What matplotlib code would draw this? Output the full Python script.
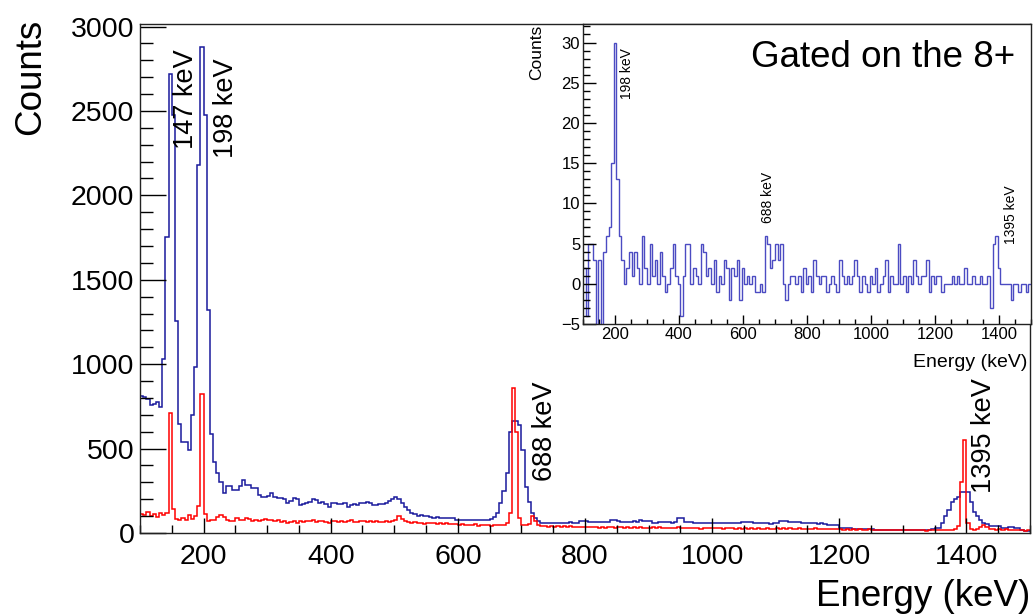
import matplotlib
matplotlib.use('Agg')
import matplotlib.pyplot as plt
import matplotlib.ticker as ticker
import numpy as np

plt.rcParams['font.family'] = ['Liberation Sans', 'DejaVu Sans']

# main spectrum, 5 keV bins from 100 to 1500 keV
bin_width = 5
blue_counts = [
    812, 805, 795, 760, 765, 778, 748, 1032, 1755, 2720, 2474, 1253, 646, 541, 541, 492, 700, 986, 2178, 2880,
    2474, 1322, 585, 423, 356, 304, 235, 279, 279, 255, 255, 279, 314, 283, 283, 267, 267, 225, 213, 213,
    220, 235, 215, 210, 206, 200, 178, 190, 206, 200, 166, 170, 178, 185, 199, 195, 180, 185, 170, 156,
    180, 178, 172, 170, 175, 157, 166, 170, 166, 175, 180, 182, 178, 166, 168, 172, 170, 175, 191, 200,
    212, 200, 180, 152, 135, 117, 110, 101, 105, 98, 101, 95, 91, 92, 89, 90, 86, 89, 88, 80,
    77, 78, 76, 79, 77, 75, 78, 76, 77, 80, 82, 95, 120, 180, 250, 356, 600, 666, 662, 640,
    492, 275, 186, 118, 89, 70, 62, 58, 60, 62, 57, 62, 60, 58, 61, 63, 58, 60, 73, 72,
    70, 66, 67, 64, 68, 66, 63, 67, 77, 76, 74, 66, 68, 64, 67, 69, 66, 77, 74, 71,
    71, 57, 58, 65, 63, 66, 64, 62, 66, 87, 86, 65, 63, 66, 59, 60, 58, 61, 59, 60,
    62, 60, 58, 62, 59, 61, 60, 58, 62, 65, 66, 64, 65, 59, 60, 58, 59, 57, 56, 58,
    57, 72, 73, 70, 65, 64, 66, 63, 59, 60, 58, 59, 57, 56, 57, 55, 47, 48, 46, 47,
    30, 28, 27, 29, 25, 24, 23, 25, 24, 22, 23, 19, 18, 20, 17, 18, 19, 17, 18, 18,
    17, 19, 18, 17, 19, 18, 16, 18, 20, 22, 28, 30, 57, 100, 136, 186, 200, 215, 241, 245,
    240, 186, 126, 100, 77, 60, 53, 41, 42, 40, 41, 28, 30, 36, 35, 28, 27, 15, 14, 13,
]
red_counts = [
    115, 108, 122, 100, 112, 95, 118, 105, 120, 710, 140, 82, 76, 88, 79, 104, 85, 98, 160, 825,
    110, 70, 80, 76, 92, 105, 95, 80, 74, 70, 86, 78, 75, 88, 82, 73, 80, 70, 78, 85,
    76, 80, 72, 78, 68, 72, 60, 65, 70, 62, 74, 68, 70, 72, 76, 64, 70, 72, 66, 60,
    70, 74, 68, 72, 66, 70, 75, 68, 64, 72, 70, 66, 72, 65, 70, 68, 66, 72, 64, 70,
    78, 100, 82, 70, 64, 60, 66, 58, 62, 56, 60, 58, 62, 55, 60, 54, 58, 52, 56, 54,
    48, 52, 47, 50, 46, 52, 44, 50, 45, 48, 44, 50, 46, 50, 48, 60, 120, 858, 600, 90,
    50, 46, 55, 103, 70, 48, 40, 44, 38, 42, 36, 40, 38, 42, 35, 40, 37, 34, 38, 36,
    34, 38, 33, 36, 30, 35, 32, 37, 34, 30, 36, 33, 29, 34, 31, 35, 30, 33, 28, 32,
    30, 34, 29, 33, 31, 28, 32, 30, 27, 33, 29, 31, 27, 32, 28, 30, 26, 31, 28, 30,
    27, 31, 28, 25, 30, 27, 29, 26, 30, 25, 28, 26, 29, 24, 28, 26, 25, 29, 26, 24,
    28, 25, 27, 24, 28, 26, 23, 27, 25, 22, 26, 24, 27, 23, 25, 22, 26, 24, 21, 25,
    22, 20, 24, 19, 22, 18, 21, 19, 17, 21, 18, 20, 16, 19, 17, 20, 16, 18, 17, 15,
    18, 16, 19, 15, 17, 16, 18, 14, 17, 15, 18, 16, 19, 17, 20, 18, 24, 40, 300, 551,
    60, 25, 20, 22, 36, 47, 38, 26, 22, 18, 21, 17, 23, 19, 16, 20, 15, 17, 14, 16,
]

# gated spectrum (inset), 8 keV bins
gate_width = 8
gated_counts = [
    2, -4, 5, 5, 3, -6, 3, -6, 4, 6, 7, 15, 30, 13, 6, 3, 0, 2, 4, 1,
    4, 2, 0, 6, 2, 0, 5, 1, 3, 0, 4, 1, -1, 0, 2, 5, 1, 0, -4, 1,
    5, 5, 0, 2, 1, 0, 5, 4, 1, 2, 0, 3, -1, 1, 0, 3, 2, -2, 2, 1,
    3, -2, 2, 0, 1, 0, 1, -1, -1, 0, -1, 6, 5, 2, 3, 5, 3, 5, 0, -2,
    0, 1, 1, 0, 1, -1, 2, 0, 1, -1, 3, 1, 0, 1, 1, -1, 0, 1, 0, -1,
    3, 1, 0, 1, 0, 1, 3, 1, -1, 1, 0, -1, 1, 0, 2, -1, 0, 1, 3, -1,
    1, 0, 0, 5, 0, 1, -1, 1, 0, 3, 1, 0, 1, 1, 3, -1, 1, 0, 1, 1,
    -1, 0, 0, 0, 1, 0, 1, 0, 0, 2, 0, 0, 1, 0, 0, 1, 0, 0, 1, -3,
    5, 6, 2, 0, 0, 0, 0, -2, 0, 0, -1, 0, 0, -1, 0,
]

main_peaks = ['147 keV', '198 keV', '688 keV', '1395 keV']
main_peak_pos = [(173, 2570), (235, 2515), (737, 600), (1427, 580)]
gated_peaks = ['198 keV', '688 keV', '1395 keV']
gated_peak_pos = [(239, 26.2), (678, 10.7), (1437, 8.6)]

edges = np.arange(100, 1500 + bin_width, bin_width)
gate_edges = np.arange(100, 1500 + gate_width, gate_width)

fig = plt.figure(figsize=(10.34, 6.14), dpi=100)
ax = fig.add_axes([0.1354, 0.1319, 0.8607, 0.8290])

ax.stairs(blue_counts, edges, baseline=None, color='#1a1a9c', lw=1.1)
ax.stairs(red_counts, edges, baseline=None, color='#ff0000', lw=1.1)
ax.set_xlim(100, 1500)
ax.set_ylim(0, 3015)

ax.xaxis.set_major_locator(ticker.MultipleLocator(200))
ax.xaxis.set_minor_locator(ticker.MultipleLocator(50))
ax.yaxis.set_major_locator(ticker.MultipleLocator(500))
ax.yaxis.set_minor_locator(ticker.MultipleLocator(100))
ax.tick_params(axis='x', which='major', direction='in', length=11, width=1, labelsize=20.5, pad=8)
ax.tick_params(axis='x', which='minor', direction='in', length=5.5, width=1)
ax.tick_params(axis='y', which='major', direction='in', length=19, width=1, labelsize=20.5, pad=4)
ax.tick_params(axis='y', which='minor', direction='in', length=9.5, width=1)
for s in ax.spines.values():
    s.set_linewidth(1)
    s.set_color('#222222')

for txt, (x, y) in zip(main_peaks, main_peak_pos):
    ax.text(x, y, txt, rotation=90, ha='center', va='center', fontsize=19.5)

fig.text(0.030, 0.875, 'Counts', rotation=90, ha='center', va='center', fontsize=26.5)
fig.text(0.996, 0.029, 'Energy (keV)', ha='right', va='center', fontsize=26.5)

# inset
axin = fig.add_axes([0.5638, 0.4723, 0.4333, 0.4886])
axin.set_facecolor('white')
axin.stairs(gated_counts, gate_edges, baseline=None, color='#4b4bc2', lw=1.0)
axin.set_xlim(100, 1500)
axin.set_ylim(-5, 32.3)
axin.xaxis.set_major_locator(ticker.MultipleLocator(200))
axin.xaxis.set_minor_locator(ticker.MultipleLocator(50))
axin.yaxis.set_major_locator(ticker.MultipleLocator(5))
axin.yaxis.set_minor_locator(ticker.MultipleLocator(1))
axin.tick_params(axis='x', which='major', direction='in', length=6.5, width=1, labelsize=12, pad=2)
axin.tick_params(axis='x', which='minor', direction='in', length=3.3, width=1)
axin.tick_params(axis='y', which='major', direction='in', length=9.5, width=1, labelsize=12, pad=2)
axin.tick_params(axis='y', which='minor', direction='in', length=4.8, width=1)
for s in axin.spines.values():
    s.set_linewidth(1)
    s.set_color('#222222')

for txt, (x, y) in zip(gated_peaks, gated_peak_pos):
    axin.text(x, y, txt, rotation=90, ha='center', va='center', fontsize=10)

axin.text(0.67, 0.89, 'Gated on the 8+', transform=axin.transAxes,
          ha='center', va='center', fontsize=26.5)
fig.text(0.519, 0.9145, 'Counts', rotation=90, ha='center', va='center', fontsize=12.5)
fig.text(0.994, 0.410, 'Energy (keV)', ha='right', va='center', fontsize=14)

fig.savefig('out.png', dpi=100)
